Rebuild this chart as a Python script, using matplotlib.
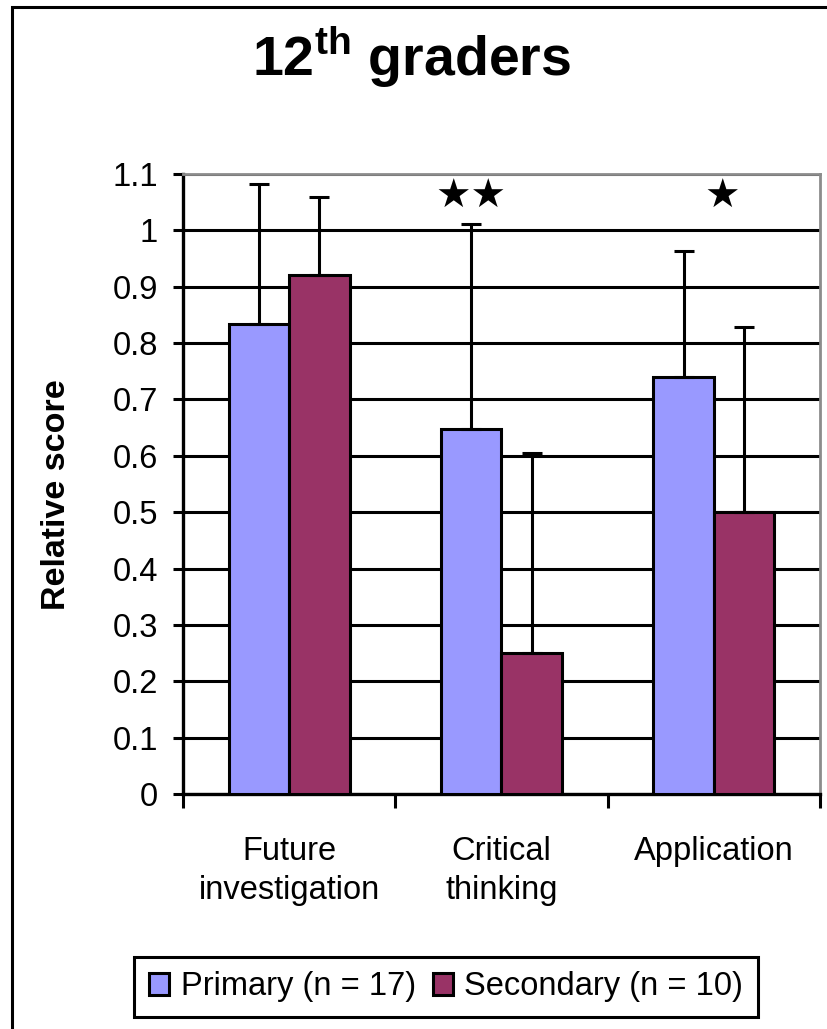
#!/usr/bin/env python3
"""
Relative scores of 12th graders by category, primary vs. secondary groups.
Excel-style clustered bars with one-sided (upper) error bars.

Output: out.png
"""

import numpy as np
import matplotlib.pyplot as plt
from matplotlib.patches import Patch, Rectangle

# --------------------------------------------------------------------------- #
# Data
# --------------------------------------------------------------------------- #
CATEGORIES = ["Future\ninvestigation", "Critical\nthinking", "Application"]
SERIES_NAMES = ["Primary (n = 17)", "Secondary (n = 10)"]
PRIMARY_MEAN = [0.833, 0.647, 0.740]
SECONDARY_MEAN = [0.920, 0.250, 0.500]
PRIMARY_ERR = [0.250, 0.365, 0.223]
SECONDARY_ERR = [0.140, 0.355, 0.328]
SIG_MARKS = ["", "★★", "★"]
Y_TICKS = [0, 0.1, 0.2, 0.3, 0.4, 0.5, 0.6, 0.7, 0.8, 0.9, 1, 1.1]
Y_TICK_LABELS = ["0", "0.1", "0.2", "0.3", "0.4", "0.5", "0.6", "0.7", "0.8",
                 "0.9", "1", "1.1"]

# --------------------------------------------------------------------------- #
# Styling
# --------------------------------------------------------------------------- #
W_PX, H_PX, DPI = 828, 1029, 100
COLORS = ["#9999FF", "#993366"]
FONT = "Liberation Sans"
FS = 23.5
BAR_W = 0.285
SIG_Y = 1.060
SIG_DX = [0.0, -0.145, 0.04]   # offset of the stars from category centre


def main() -> None:
    plt.rcParams["font.family"] = [FONT, "DejaVu Sans"]
    plt.rcParams["mathtext.fontset"] = "custom"
    plt.rcParams["mathtext.rm"] = FONT
    plt.rcParams["mathtext.bf"] = FONT + ":bold"

    fig = plt.figure(figsize=(W_PX / DPI, H_PX / DPI), dpi=DPI)

    # outer chart border (cropped on right / bottom)
    fig.add_artist(Rectangle((12 / W_PX, -0.1), 1.2, 1 - 7 / H_PX + 0.1,
                             transform=fig.transFigure, fill=False,
                             edgecolor="black", linewidth=2.2))

    ax = fig.add_axes([183 / W_PX, (H_PX - 794) / H_PX,
                       (820 - 183) / W_PX, (794 - 174) / H_PX])

    x = np.arange(len(CATEGORIES))
    means = [PRIMARY_MEAN, SECONDARY_MEAN]
    errs = [PRIMARY_ERR, SECONDARY_ERR]
    for i, (m, e) in enumerate(zip(means, errs)):
        xs = x + (i - 0.5) * BAR_W
        ax.bar(xs, m, width=BAR_W, color=COLORS[i], edgecolor="black",
               linewidth=2.2, zorder=3)
        ax.errorbar(xs, m, yerr=[np.zeros(len(m)), e], fmt="none",
                    ecolor="black", elinewidth=2.2, capsize=7, capthick=2.2,
                    zorder=4)

    for xi, mark, dx in zip(x, SIG_MARKS, SIG_DX):
        if mark:
            ax.text(xi + dx, SIG_Y, mark, ha="center", va="center",
                    fontsize=28.5, family=["DejaVu Sans"], zorder=5)

    ax.set_xlim(-0.5, len(CATEGORIES) - 0.5)
    ax.set_ylim(0, 1.1)
    ax.set_yticks(Y_TICKS)
    ax.set_yticklabels(Y_TICK_LABELS)
    ax.yaxis.grid(True, color="black", linewidth=2.2, zorder=0)
    ax.set_axisbelow(True)

    # boundary ticks (major) and centred labels (minor)
    ax.set_xticks(np.arange(-0.5, len(CATEGORIES)))
    ax.set_xticklabels([])
    ax.set_xticks(x, minor=True)
    ax.set_xticklabels(CATEGORIES, minor=True, fontsize=FS, linespacing=1.35)
    ax.tick_params(axis="x", which="major", length=10, width=2.2,
                   direction="out")
    ax.tick_params(axis="x", which="minor", length=0, pad=30)
    ax.tick_params(axis="y", length=7, width=2.2, direction="out",
                   labelsize=FS, pad=11)

    for side in ("left", "bottom"):
        ax.spines[side].set_linewidth(2.4)
        ax.spines[side].set_color("black")
    for side in ("top", "right"):
        ax.spines[side].set_linewidth(2.0)
        ax.spines[side].set_color("#8C8C8C")

    ax.set_ylabel("Relative score", fontsize=24.5, fontweight="bold")
    ax.yaxis.set_label_coords(-(183 - 72) / (820 - 183), (794 - 495) / 620)

    fig.text(412 / W_PX, 1 - 75 / H_PX, r"12$^{\mathbf{th}}$ graders",
             ha="center", va="baseline", fontsize=40, fontweight="bold")

    handles = [Patch(facecolor=c, edgecolor="black", linewidth=2.2, label=n)
               for c, n in zip(COLORS, SERIES_NAMES)]
    leg = fig.legend(handles=handles, loc="center", ncol=2, fontsize=FS,
                     bbox_to_anchor=(446 / W_PX, 1 - 987 / H_PX),
                     handlelength=0.62, handleheight=0.62,
                     handletextpad=0.35, columnspacing=0.52,
                     borderpad=0.45, fancybox=False, framealpha=1.0)
    leg.get_frame().set_edgecolor("black")
    leg.get_frame().set_linewidth(2.2)

    fig.savefig("out.png", dpi=DPI)
    plt.close(fig)


if __name__ == "__main__":
    main()
